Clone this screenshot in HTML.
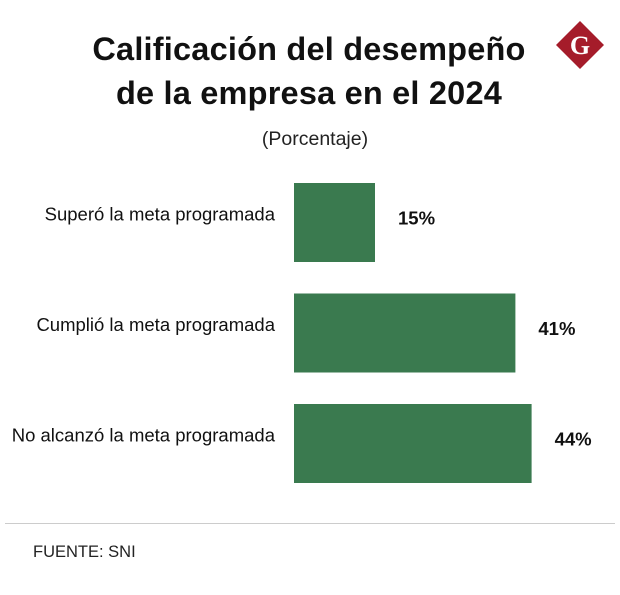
<!DOCTYPE html>
<html><head><meta charset="utf-8"><style>
body{margin:0;width:620px;height:595px;background:#fff;font-family:"Liberation Sans",sans-serif;position:relative;overflow:hidden}
.t{position:absolute;left:0;width:618px;text-align:center;font-weight:bold;font-size:32.5px;color:#111;line-height:44px;letter-spacing:0.2px}
</style></head><body>
<div class="t" style="top:27px">Calificación del desempeño<br>de la empresa en el 2024</div>
<div style="position:absolute;top:128px;left:0;width:630px;text-align:center;font-size:19.5px;color:#222">(Porcentaje)</div>
<svg style="position:absolute;left:555px;top:20px" width="50" height="50" viewBox="0 0 50 50">
<polygon points="25,1 49,25 25,49 1,25" fill="#a51c2a"/>
<text x="25" y="34" text-anchor="middle" font-family="Liberation Serif" font-weight="bold" font-size="26" fill="#fff">G</text>
</svg>
<svg id="c" style="position:absolute;left:0;top:0" width="620" height="595"></svg>
<div style="position:absolute;left:5px;top:523px;width:610px;height:1px;background:#ccc"></div>
<div style="position:absolute;left:33px;top:543px;font-size:16.5px;color:#222">FUENTE: SNI</div>
<script>
const categories=["Superó la meta programada","Cumplió la meta programada","No alcanzó la meta programada"];
const values=[15,41,44];
const valueLabels=["15%","41%","44%"];
const svg=document.getElementById('c');
const NS="http://www.w3.org/2000/svg";
const x0=294,scale=5.4,y0=183,step=110.5,bh=79;
const xs=v=>v*scale;
categories.forEach((c,i)=>{
 const y=y0+i*step;
 const r=document.createElementNS(NS,'rect');
 r.setAttribute('x',x0);r.setAttribute('y',y);r.setAttribute('width',xs(values[i]));r.setAttribute('height',bh);r.setAttribute('fill','#3a7a4f');
 
 
 svg.appendChild(r);
 const l=document.createElementNS(NS,'text');
 l.setAttribute('x',275);l.setAttribute('y',y+bh/2-2);l.setAttribute('text-anchor','end');l.setAttribute('font-size','18.5');l.setAttribute('fill','#111');l.setAttribute('font-family','Liberation Sans');
 l.textContent=c;
 
 
 svg.appendChild(l);
 const t=document.createElementNS(NS,'text');
 t.setAttribute('x',x0+xs(values[i])+23);t.setAttribute('y',y+bh/2+2);t.setAttribute('font-size','18.5');t.setAttribute('font-weight','bold');t.setAttribute('fill','#111');t.setAttribute('font-family','Liberation Sans');
 t.textContent=valueLabels[i];
 
 
 svg.appendChild(t);
});
</script>
</body></html>
